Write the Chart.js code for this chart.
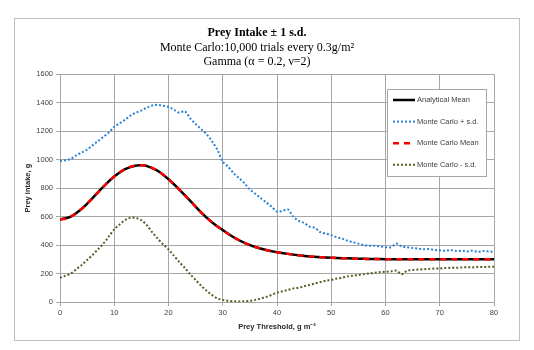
<!DOCTYPE html>
<html>
<head>
<meta charset="utf-8">
<script src="https://cdn.jsdelivr.net/npm/chart.js@4.4.1/dist/chart.umd.min.js"></script>
<style>
  html, body { margin: 0; padding: 0; background: #fff; }
  canvas { display: block; }
</style>
</head>
<body>
<canvas id="chart" width="534" height="350"></canvas>
<script>
// Analytical mean (smooth curve)
const analyticX = [0, 2, 4, 6, 8, 10, 12, 14, 15, 16, 18, 20, 22, 24, 26, 28, 30, 32, 34, 36, 38, 40,
  42, 44, 46, 48, 50, 52, 54, 56, 58, 60, 65, 70, 75, 80];
const analyticMean = [580, 600, 655, 730, 810, 882, 933, 958, 960, 955, 922, 862, 790, 710, 630, 560, 505, 455, 415, 386, 365, 350,
  338, 328, 320, 315, 311, 308, 305, 303, 302, 301, 300, 300, 300, 300];

// Monte Carlo results
const mcX = [0, 1, 2, 3, 4, 5, 6, 7, 8, 9, 10, 11, 12, 13, 14, 15, 16, 17, 18, 19, 20,
  21, 22, 23, 24, 25, 26, 27, 28, 29, 30, 31, 32, 33, 34, 35, 36, 37, 38, 39, 40,
  41, 42, 43, 44, 45, 46, 47, 48, 49, 50, 51, 52, 53, 54, 55, 56, 57, 58, 59, 60,
  61, 62, 63, 64, 65, 66, 67, 68, 69, 70, 71, 72, 73, 74, 75, 76, 77, 78, 79, 80];
const mcPlus = [990, 995, 1005, 1030, 1050, 1070, 1100, 1130, 1160, 1190, 1230, 1255, 1280, 1310, 1330, 1345, 1365, 1380, 1385, 1378, 1370,
  1350, 1330, 1340, 1290, 1250, 1215, 1180, 1130, 1070, 985, 950, 905, 870, 835, 790, 760, 730, 700, 670, 635,
  640, 650, 600, 570, 555, 530, 520, 490, 480, 470, 455, 445, 430, 420, 410, 400, 395, 395, 390, 385,
  385, 410, 390, 385, 380, 375, 370, 372, 365, 362, 360, 365, 358, 360, 355, 360, 352, 358, 355, 352];
const mcMean = [580, 585, 600, 625, 655, 690, 730, 770, 810, 848, 882, 910, 933, 950, 958, 960, 955, 942, 922, 895, 862,
  828, 790, 750, 710, 670, 630, 595, 560, 530, 505, 478, 455, 435, 415, 400, 386, 375, 365, 357, 350,
  343, 338, 333, 328, 324, 320, 318, 315, 313, 311, 309, 308, 306, 305, 304, 303, 302, 302, 301, 301,
  300, 300, 300, 300, 300, 300, 300, 300, 300, 300, 300, 300, 300, 300, 300, 300, 300, 300, 300, 300];
const mcMinus = [170, 185, 200, 230, 260, 295, 330, 370, 410, 460, 510, 545, 575, 592, 590, 575, 540, 490, 445, 405, 370,
  325, 280, 240, 195, 155, 115, 80, 50, 25, 15, 8, 5, 3, 5, 8, 15, 25, 35, 50, 65,
  75, 85, 95, 100, 110, 120, 130, 140, 150, 155, 165, 170, 180, 185, 190, 195, 200, 205, 210, 212,
  215, 220, 195, 220, 225, 228, 230, 232, 235, 236, 238, 240, 240, 242, 245, 243, 246, 245, 248, 248];

const xTicksMax = 80;
const yTicksMax = 1600;

function toPoints(xs, ys) {
  return xs.map((x, i) => ({ x: x, y: ys[i] }));
}

const sansFont = '"Liberation Sans", Arial, sans-serif';
const serifFont = '"Liberation Serif", "Times New Roman", serif';

// white background + outer chart border
const frame = {
  id: 'frame',
  beforeDraw(chart) {
    const ctx = chart.ctx;
    ctx.save();
    ctx.fillStyle = '#fff';
    ctx.fillRect(0, 0, chart.width, chart.height);
    ctx.strokeStyle = '#c0c0c0';
    ctx.lineWidth = 1;
    ctx.strokeRect(14.5, 18.5, 505, 322);
    ctx.restore();
  }
};

// boxed legend inside the plot, like the original
const legendOrder = [0, 1, 2, 3];
const boxLegend = {
  id: 'boxLegend',
  afterDraw(chart) {
    const ctx = chart.ctx;
    ctx.save();
    ctx.fillStyle = '#fff';
    ctx.fillRect(387, 89, 99, 87);
    ctx.strokeStyle = '#a6a6a6';
    ctx.lineWidth = 1;
    ctx.strokeRect(387.5, 89.5, 99, 87);
    legendOrder.forEach((idx, i) => {
      const ds = chart.data.datasets[idx];
      const y = 100 + i * 21.6;
      ctx.beginPath();
      ctx.setLineDash(ds.borderDash || []);
      ctx.strokeStyle = ds.borderColor;
      ctx.lineWidth = ds.borderWidth;
      ctx.moveTo(393, y);
      ctx.lineTo(415, y);
      ctx.stroke();
      ctx.setLineDash([]);
      ctx.fillStyle = '#404040';
      ctx.font = '7.5px ' + sansFont;
      ctx.textBaseline = 'middle';
      ctx.fillText(ds.label, 417, y);
    });
    ctx.restore();
  }
};

new Chart(document.getElementById('chart'), {
  type: 'line',
  data: {
    datasets: [
      {
        label: 'Analytical Mean',
        data: toPoints(analyticX, analyticMean),
        borderColor: '#000000',
        borderWidth: 2.5,
        pointRadius: 0,
        tension: 0.4,
        order: 2
      },
      {
        label: 'Monte Carlo + s.d.',
        data: toPoints(mcX, mcPlus),
        borderColor: '#2a82d8',
        borderWidth: 2,
        borderDash: [2, 2],
        pointRadius: 0,
        tension: 0.3,
        order: 1
      },
      {
        label: 'Monte Carlo Mean',
        data: toPoints(mcX, mcMean),
        borderColor: '#ff0000',
        borderWidth: 2.5,
        borderDash: [6, 5],
        pointRadius: 0,
        tension: 0.4,
        order: 0
      },
      {
        label: 'Monte Carlo - s.d.',
        data: toPoints(mcX, mcMinus),
        borderColor: '#4f6228',
        borderWidth: 2,
        borderDash: [2, 2],
        pointRadius: 0,
        tension: 0.3,
        order: 1
      }
    ]
  },
  options: {
    responsive: false,
    animation: false,
    layout: { padding: { left: 20, right: 40, top: 0, bottom: 10 } },
    plugins: {
      legend: { display: false },
      tooltip: { enabled: false },
      title: {
        display: true,
        text: 'Prey Intake \u00b1 1 s.d.',
        color: '#000',
        font: { family: serifFont, size: 12, weight: 'bold', lineHeight: 1.2 },
        padding: { top: 26, bottom: 0 }
      },
      subtitle: {
        display: true,
        text: ['Monte Carlo:10,000 trials every 0.3g/m\u00b2', 'Gamma (\u03b1 = 0.2, \u03bd=2)'],
        color: '#000',
        font: { family: serifFont, size: 12, weight: 'normal', lineHeight: 1.2 },
        padding: { top: 0, bottom: 5 }
      }
    },
    scales: {
      x: {
        type: 'linear',
        min: 0,
        max: xTicksMax,
        afterFit(scale) { scale.height = 38; },
        ticks: { stepSize: 10, color: '#404040', padding: 2, font: { family: sansFont, size: 7.5 } },
        grid: { color: '#a6a6a6', lineWidth: 1, tickLength: 4 },
        border: { color: '#a6a6a6' },
        title: {
          display: true,
          text: 'Prey Threshold, g m\u207b\u00b2',
          color: '#262626',
          font: { family: sansFont, size: 7.5, weight: 'bold' },
          padding: { top: 0, bottom: 9 }
        }
      },
      y: {
        min: 0,
        max: yTicksMax,
        afterFit(scale) { scale.width = 40; },
        ticks: {
          stepSize: 200,
          color: '#404040',
          padding: 3,
          font: { family: sansFont, size: 7.5 },
          callback: (v) => String(v)
        },
        grid: { color: '#a6a6a6', lineWidth: 1, tickLength: 4 },
        border: { color: '#a6a6a6' },
        title: {
          display: true,
          text: 'Prey intake, g',
          color: '#262626',
          font: { family: sansFont, size: 7.5, weight: 'bold' },
          padding: { top: 3, bottom: 0 }
        }
      }
    }
  },
  plugins: [frame, boxLegend]
});
</script>
</body>
</html>
